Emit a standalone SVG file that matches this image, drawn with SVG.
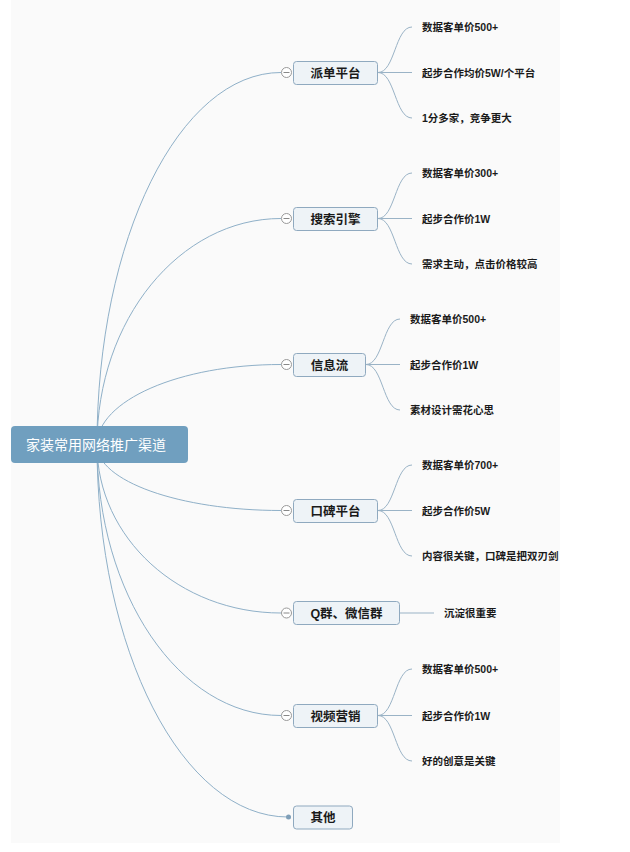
<svg xmlns="http://www.w3.org/2000/svg" width="630" height="852" viewBox="0 0 630 852">
<defs>
<style>
.bg{fill:#fafafa}
.root{fill:#709fbf}
.roottxt{font-family:"Liberation Sans","Noto Sans CJK SC",sans-serif;font-size:14px;fill:#ffffff}
.box{fill:#eef3f7;stroke:#8fa9bf;stroke-width:1}
.ntxt{font-family:"Liberation Sans","Noto Sans CJK SC",sans-serif;font-size:12.5px;font-weight:bold;fill:#1a1a1a;text-anchor:middle}
.ctxt{font-family:"Liberation Sans","Noto Sans CJK SC",sans-serif;font-size:10.5px;font-weight:bold;fill:#1a1a1a}
.rc{fill:none;stroke:#8fb0c8;stroke-width:1}
.cc{fill:none;stroke:#9ab3c6;stroke-width:1}
.tog{fill:#ffffff;stroke:#999999;stroke-width:1}
.minus{stroke:#888888;stroke-width:1}
</style>
</defs>
<rect class="bg" x="11" y="0" width="549" height="843"/>
<g id="connectors">
<path class="rc" d="M97,445 C97,239 179.4,72.5 281,72.5"/>
<path class="rc" d="M97,445 C97,320 179.4,218.5 281,218.5"/>
<path class="rc" d="M97,445 C97,400.5 179.4,364.5 281,364.5"/>
<path class="rc" d="M97,445 C97,481 179.4,510.5 281,510.5"/>
<path class="rc" d="M97,445 C97,538 179.4,613 281,613"/>
<path class="rc" d="M97,445 C97,594 179.4,715.5 281,715.5"/>
<path class="rc" d="M97,445 C97,650 182.5,817 288,817"/>
<path class="cc" d="M378,72.5 C395,72.5 395,27 412,27"/>
<path class="cc" d="M378,72.5 L412,72.5"/>
<path class="cc" d="M378,72.5 C395,72.5 395,118 412,118"/>
<path class="cc" d="M378,218.5 C395,218.5 395,173 412,173"/>
<path class="cc" d="M378,218.5 L412,218.5"/>
<path class="cc" d="M378,218.5 C395,218.5 395,264 412,264"/>
<path class="cc" d="M366,364.5 C383,364.5 383,319 400,319"/>
<path class="cc" d="M366,364.5 L400,364.5"/>
<path class="cc" d="M366,364.5 C383,364.5 383,410 400,410"/>
<path class="cc" d="M378,510.5 C395,510.5 395,465 412,465"/>
<path class="cc" d="M378,510.5 L412,510.5"/>
<path class="cc" d="M378,510.5 C395,510.5 395,556 412,556"/>
<path class="cc" d="M400,613 L434,613"/>
<path class="cc" d="M378,715.5 C395,715.5 395,669 412,669"/>
<path class="cc" d="M378,715.5 L412,715.5"/>
<path class="cc" d="M378,715.5 C395,715.5 395,761 412,761"/>
</g>
<g id="root">
<rect class="root" x="11" y="426" width="177" height="37" rx="4"/>
<text class="roottxt" x="26" y="449.5">家装常用网络推广渠道</text>
</g>
<g id="n1">
<circle class="tog" cx="286.5" cy="72.5" r="5"/><line class="minus" x1="283.5" y1="72.5" x2="289.5" y2="72.5"/>
<rect class="box" x="293.5" y="61.5" width="84" height="23" rx="3"/>
<text class="ntxt" x="335.5" y="77.5">派单平台</text>
<text class="ctxt" x="422" y="31">数据客单价500+</text>
<text class="ctxt" x="422" y="76.5">起步合作均价5W/个平台</text>
<text class="ctxt" x="422" y="122">1分多家，竞争更大</text>
</g>
<g id="n2">
<circle class="tog" cx="286.5" cy="218.5" r="5"/><line class="minus" x1="283.5" y1="218.5" x2="289.5" y2="218.5"/>
<rect class="box" x="293.5" y="207.5" width="84" height="23" rx="3"/>
<text class="ntxt" x="335.5" y="223.5">搜索引擎</text>
<text class="ctxt" x="422" y="177">数据客单价300+</text>
<text class="ctxt" x="422" y="222.5">起步合作价1W</text>
<text class="ctxt" x="422" y="268">需求主动，点击价格较高</text>
</g>
<g id="n3">
<circle class="tog" cx="286.5" cy="364.5" r="5"/><line class="minus" x1="283.5" y1="364.5" x2="289.5" y2="364.5"/>
<rect class="box" x="293.5" y="353.5" width="72" height="23" rx="3"/>
<text class="ntxt" x="329.5" y="369.5">信息流</text>
<text class="ctxt" x="410" y="323">数据客单价500+</text>
<text class="ctxt" x="410" y="368.5">起步合作价1W</text>
<text class="ctxt" x="410" y="414">素材设计需花心思</text>
</g>
<g id="n4">
<circle class="tog" cx="286.5" cy="510.5" r="5"/><line class="minus" x1="283.5" y1="510.5" x2="289.5" y2="510.5"/>
<rect class="box" x="293.5" y="499.5" width="84" height="23" rx="3"/>
<text class="ntxt" x="335.5" y="515.5">口碑平台</text>
<text class="ctxt" x="422" y="469">数据客单价700+</text>
<text class="ctxt" x="422" y="514.5">起步合作价5W</text>
<text class="ctxt" x="422" y="560">内容很关键，口碑是把双刃剑</text>
</g>
<g id="n5">
<circle class="tog" cx="286.5" cy="613" r="5"/><line class="minus" x1="283.5" y1="613" x2="289.5" y2="613"/>
<rect class="box" x="293.5" y="601.5" width="106" height="23" rx="3"/>
<text class="ntxt" x="346.5" y="617.5">Q群、微信群</text>
<text class="ctxt" x="444" y="617">沉淀很重要</text>
</g>
<g id="n6">
<circle class="tog" cx="286.5" cy="715.5" r="5"/><line class="minus" x1="283.5" y1="715.5" x2="289.5" y2="715.5"/>
<rect class="box" x="293.5" y="704.5" width="84" height="23" rx="3"/>
<text class="ntxt" x="335.5" y="720.5">视频营销</text>
<text class="ctxt" x="422" y="673">数据客单价500+</text>
<text class="ctxt" x="422" y="719.5">起步合作价1W</text>
<text class="ctxt" x="422" y="765">好的创意是关键</text>
</g>
<g id="n7">
<circle cx="288.5" cy="817" r="2.5" fill="#7f9fb8"/>
<rect class="box" x="293.5" y="806" width="59" height="23" rx="3"/>
<text class="ntxt" x="323" y="822">其他</text>
</g>
</svg>
